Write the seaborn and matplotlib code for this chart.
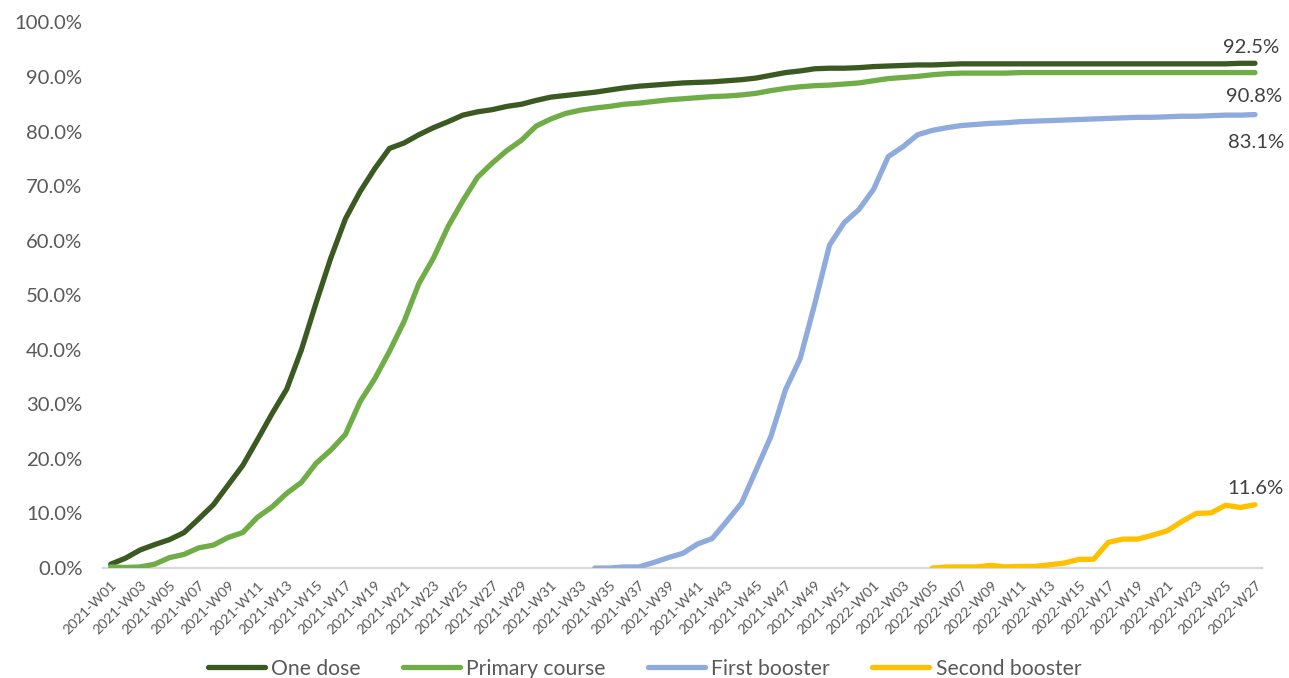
import numpy as np
import pandas as pd
import matplotlib
matplotlib.use("Agg")
import matplotlib.pyplot as plt
from matplotlib.ticker import FuncFormatter
import seaborn as sns

# ISO weeks covered by the series
weeks = [f"2021-W{w:02d}" for w in range(1, 53)] + [f"2022-W{w:02d}" for w in range(1, 28)]

# Cumulative coverage, percent of population
one_dose = [
    0.7, 1.8, 3.3, 4.3, 5.2, 6.5, 9.0, 11.6, 15.2, 18.8,
    23.5, 28.3, 32.8, 40.0, 48.6, 56.8, 64.0, 69.0, 73.2, 76.9,
    77.9, 79.4, 80.7, 81.8, 83.0, 83.6, 84.0, 84.6, 85.0, 85.7,
    86.3, 86.6, 86.9, 87.2, 87.6, 88.0, 88.3, 88.5, 88.7, 88.9,
    89.0, 89.1, 89.3, 89.5, 89.8, 90.3, 90.8, 91.1, 91.5, 91.6,
    91.6, 91.7,
    91.9, 92.0, 92.1, 92.2, 92.2, 92.3, 92.4, 92.4, 92.4, 92.4,
    92.4, 92.4, 92.4, 92.4, 92.4, 92.4, 92.4, 92.4, 92.4, 92.4,
    92.4, 92.4, 92.4, 92.4, 92.4, 92.5, 92.5,
]
primary_course = [
    0.2, 0.1, 0.2, 0.7, 1.9, 2.5, 3.7, 4.2, 5.6, 6.5,
    9.3, 11.2, 13.7, 15.7, 19.2, 21.6, 24.5, 30.5, 34.7, 39.7,
    45.2, 52.1, 56.8, 62.6, 67.3, 71.6, 74.2, 76.5, 78.4, 81.0,
    82.3, 83.3, 83.9, 84.3, 84.6, 85.0, 85.2, 85.5, 85.8, 86.0,
    86.2, 86.4, 86.5, 86.7, 87.0, 87.5, 87.9, 88.2, 88.4, 88.5,
    88.7, 88.9,
    89.3, 89.7, 89.9, 90.1, 90.4, 90.6, 90.7, 90.7, 90.7, 90.7,
    90.8, 90.8, 90.8, 90.8, 90.8, 90.8, 90.8, 90.8, 90.8, 90.8,
    90.8, 90.8, 90.8, 90.8, 90.8, 90.8, 90.8,
]
first_booster_start = "2021-W34"
first_booster = [
    0.0, 0.0, 0.2, 0.2, 1.0, 1.9, 2.7, 4.4, 5.4, 8.6,
    11.9, 18.0, 24.1, 32.7, 38.4, 48.5, 59.2, 63.3, 65.7,
    69.4, 75.4, 77.2, 79.4, 80.2, 80.7, 81.1, 81.3, 81.5, 81.6,
    81.8, 81.9, 82.0, 82.1, 82.2, 82.3, 82.4, 82.5, 82.6, 82.6,
    82.7, 82.8, 82.8, 82.9, 83.0, 83.0, 83.1,
]
second_booster_start = "2022-W05"
second_booster = [
    0.0, 0.2, 0.2, 0.2, 0.5, 0.2, 0.3, 0.3, 0.6, 0.9,
    1.6, 1.6, 4.7, 5.3, 5.3, 6.0, 6.8, 8.5, 10.0, 10.1,
    11.5, 11.1, 11.6,
]

series_names = ["One dose", "Primary course", "First booster", "Second booster"]
series_colors = ["#3A5A22", "#70AD47", "#8FAADC", "#FFC000"]

# Long-form table: one row per (series, week)
rows = []
for name, start, vals in [
    ("One dose", weeks[0], one_dose),
    ("Primary course", weeks[0], primary_course),
    ("First booster", first_booster_start, first_booster),
    ("Second booster", second_booster_start, second_booster),
]:
    i0 = weeks.index(start)
    for k, v in enumerate(vals):
        rows.append({"series": name, "idx": i0 + k, "week": weeks[i0 + k], "value": v})
df = pd.DataFrame(rows)

sns.set_theme(style="white")
plt.rcParams["font.family"] = ["Lato", "DejaVu Sans"]

fig = plt.figure(figsize=(12.89, 6.78), dpi=100)
ax = fig.add_axes([0.0802, 0.1622, 0.9793 - 0.0802, 0.967 - 0.1622])

sns.lineplot(
    data=df, x="idx", y="value", hue="series",
    hue_order=series_names, palette=series_colors,
    linewidth=3.8, errorbar=None, ax=ax, zorder=3,
    solid_capstyle="round", solid_joinstyle="round",
)

ax.set_xlim(-0.5, len(weeks) - 0.5)
ax.set_ylim(0, 100)
ax.set_yticks(np.arange(0, 101, 10))
ax.yaxis.set_major_formatter(FuncFormatter(lambda v, _: f"{v:.1f}%"))
ax.tick_params(axis="y", length=0, pad=15, labelsize=14.6, labelcolor="#595959")

tick_idx = list(range(0, len(weeks), 2))
ax.set_xticks(tick_idx)
ax.set_xticklabels([weeks[i] for i in tick_idx], rotation=45, ha="right",
                   rotation_mode="anchor", fontsize=10.3, color="#595959")
ax.tick_params(axis="x", length=0, pad=8)
ax.set_xlabel("")
ax.set_ylabel("")

for side in ["top", "right", "left"]:
    ax.spines[side].set_visible(False)
ax.spines["bottom"].set_color("#D9D9D9")
ax.spines["bottom"].set_linewidth(1.6)
ax.grid(False)

# Final-week value labels
end_labels = [
    (one_dose, (-4, 16)),
    (primary_course, (-1, -24)),
    (first_booster, (1, -28)),
    (second_booster, (1, 16)),
]
last = len(weeks) - 1
for vals, off in end_labels:
    ax.annotate(f"{vals[-1]:.1f}%", xy=(last, vals[-1]), xytext=off,
                textcoords="offset pixels", ha="center", va="center",
                fontsize=14.6, color="#404040")

sns.move_legend(ax, "center", bbox_to_anchor=(0.5, 0.014),
                bbox_transform=fig.transFigure, ncol=4, frameon=False,
                title=None, fontsize=15.2, handlelength=2.7,
                handletextpad=0.3, columnspacing=2.0, borderpad=0)
for t in ax.get_legend().get_texts():
    t.set_color("#595959")

fig.savefig("out.png", dpi=100)
